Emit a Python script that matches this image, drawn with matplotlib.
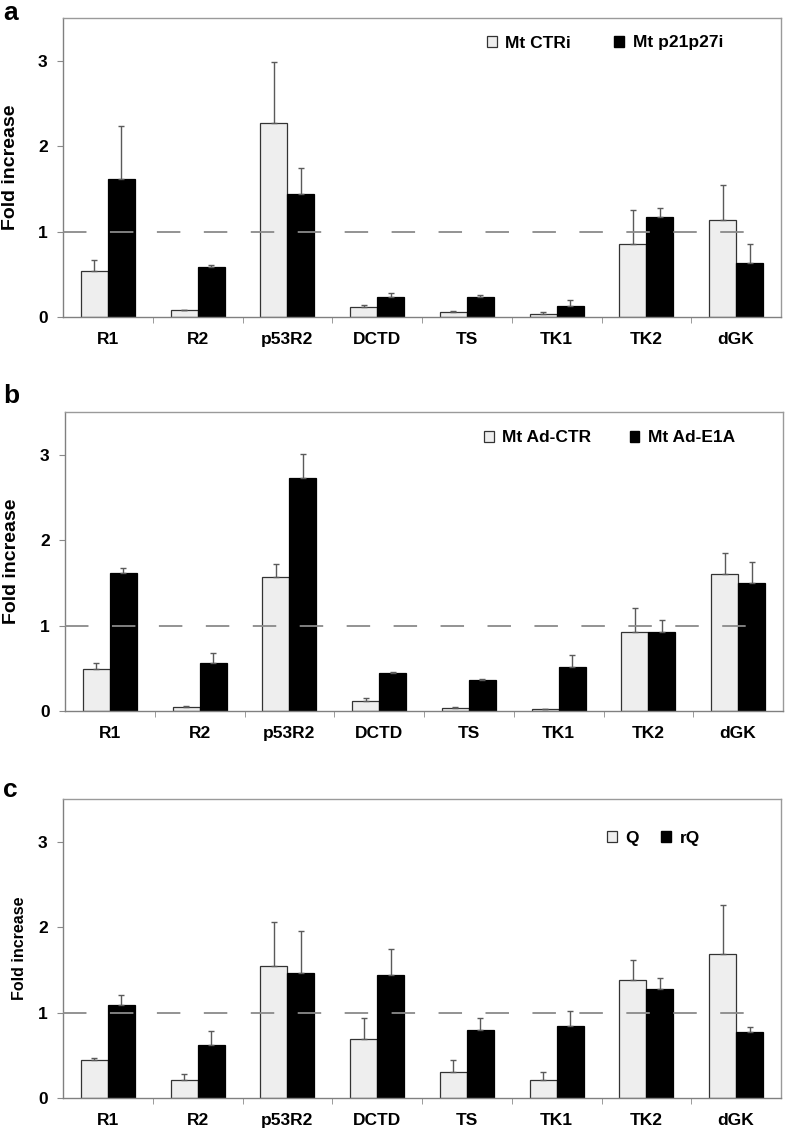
"""Fold increase of dNTP-metabolism genes, three panels (a, b, c)."""
import numpy as np
import matplotlib
matplotlib.use("Agg")
import matplotlib.pyplot as plt
from matplotlib.patches import Patch

genes = ["R1", "R2", "p53R2", "DCTD", "TS", "TK1", "TK2", "dGK"]

# panel a
a_labels = ["Mt CTRi", "Mt p21p27i"]
a_ctrl = [0.54, 0.08, 2.27, 0.12, 0.06, 0.04, 0.85, 1.13]
a_ctrl_err = [0.13, 0.0, 0.71, 0.02, 0.01, 0.015, 0.40, 0.41]
a_trt = [1.61, 0.58, 1.44, 0.23, 0.23, 0.13, 1.17, 0.63]
a_trt_err = [0.63, 0.03, 0.31, 0.05, 0.025, 0.065, 0.11, 0.23]

# panel b
b_labels = ["Mt Ad-CTR", "Mt Ad-E1A"]
b_ctrl = [0.49, 0.05, 1.57, 0.12, 0.04, 0.02, 0.93, 1.60]
b_ctrl_err = [0.07, 0.01, 0.15, 0.03, 0.005, 0.0, 0.27, 0.25]
b_trt = [1.62, 0.56, 2.73, 0.44, 0.36, 0.52, 0.93, 1.50]
b_trt_err = [0.05, 0.12, 0.28, 0.02, 0.02, 0.13, 0.13, 0.24]

# panel c
c_labels = ["Q", "rQ"]
c_ctrl = [0.44, 0.21, 1.54, 0.69, 0.30, 0.21, 1.38, 1.69]
c_ctrl_err = [0.03, 0.07, 0.52, 0.25, 0.14, 0.10, 0.24, 0.57]
c_trt = [1.09, 0.62, 1.46, 1.44, 0.80, 0.84, 1.28, 0.77]
c_trt_err = [0.12, 0.16, 0.50, 0.30, 0.14, 0.18, 0.13, 0.06]

plt.rcParams.update({"font.family": ["Liberation Sans", "DejaVu Sans"],
                     "font.weight": "bold"})

W, H = 785, 1133
fig = plt.figure(figsize=(W / 100, H / 100), dpi=100)

LIGHT = "#eeeeee"
GRID = "#8a8a8a"


def panel(rect, letter, letter_y, ctrl, ctrl_err, trt, trt_err, labels,
          leg_xy, colsp, ylab_size, ylab_x):
    l, t, r, b = rect
    ax = fig.add_axes([l / W, 1 - b / H, (r - l) / W, (b - t) / H])
    x = np.arange(len(genes)) + 0.5
    w = 0.3
    z = np.zeros(len(genes))
    ekw = dict(ecolor="#5a5a5a", elinewidth=1.0, capsize=2.2, capthick=1.0)
    ax.bar(x - w / 2, ctrl, w, color=LIGHT, edgecolor="#333333", linewidth=0.9,
           yerr=[z, ctrl_err], error_kw=ekw, label=labels[0], zorder=2)
    ax.bar(x + w / 2, trt, w, color="black", edgecolor="black", linewidth=0.9,
           yerr=[z, trt_err], error_kw=ekw, label=labels[1], zorder=2)
    ax.plot([0, 7.63], [1, 1], color=GRID, lw=1.3, ls=(0, (13, 13)), zorder=3)

    ax.set_xlim(0, 8)
    ax.set_ylim(0, 3.5)
    ax.set_xticks(x)
    ax.set_xticklabels(genes, fontsize=12.5, fontweight="bold")
    ax.set_xticks(np.arange(1, 8), minor=True)
    ax.tick_params(axis="x", which="major", length=0, pad=11)
    ax.tick_params(axis="x", which="minor", length=4, direction="out", color=GRID)
    ax.set_yticks([0, 1, 2, 3])
    ax.set_yticklabels(["0", "1", "2", "3"], fontsize=12.5, fontweight="bold")
    ax.tick_params(axis="y", length=4, direction="out", color=GRID, pad=7)
    for s in ax.spines.values():
        s.set_color("#9a9a9a")
        s.set_linewidth(1.0)
    ax.spines["left"].set_color("#808080")
    ax.spines["bottom"].set_color("#808080")

    ax.set_ylabel("Fold increase", fontsize=ylab_size, fontweight="bold",
                  va="center")
    ax.yaxis.set_label_coords((ylab_x - l) / (r - l), 0.5)

    handles = [Patch(facecolor=LIGHT, edgecolor="#333333", linewidth=0.9),
               Patch(facecolor="black", edgecolor="black")]
    lx = (leg_xy[0] - l) / (r - l)
    ly = (b - leg_xy[1]) / (b - t)
    ax.legend(handles, labels, loc="center left", bbox_to_anchor=(lx, ly),
              ncol=2, frameon=False, handlelength=0.55,
              handleheight=0.55, handletextpad=0.5, columnspacing=colsp,
              borderpad=0, borderaxespad=0, prop={"weight": "bold", "size": 12.5})

    fig.text(3 / W, 1 - letter_y / H, letter, fontsize=19, fontweight="bold",
             ha="left", va="baseline")
    return ax


panel((63, 18, 781, 317), "a", 20, a_ctrl, a_ctrl_err, a_trt, a_trt_err,
      a_labels, (487, 43), 2.5, 14, 11)
panel((65, 412, 783, 711), "b", 403, b_ctrl, b_ctrl_err, b_trt, b_trt_err,
      b_labels, (484, 438), 2.2, 14, 12)
panel((63, 799, 781, 1098), "c", 797, c_ctrl, c_ctrl_err, c_trt, c_trt_err,
      c_labels, (607, 838), 1.3, 11.5, 20)

fig.savefig("out.png", dpi=100)
